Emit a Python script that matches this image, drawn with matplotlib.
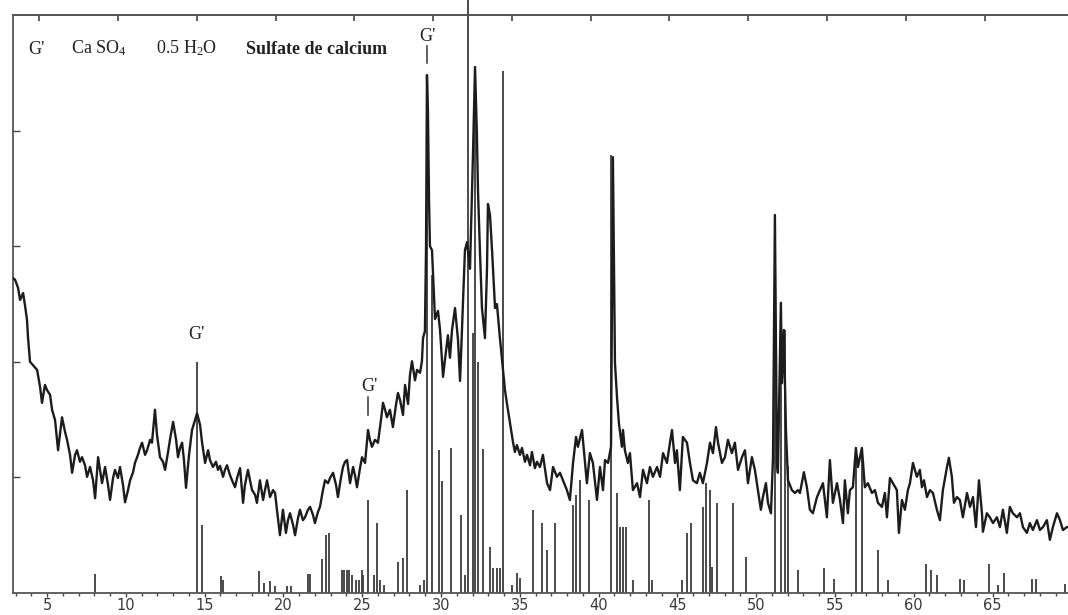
import numpy as np
import matplotlib
matplotlib.use("Agg")
import matplotlib.pyplot as plt
from matplotlib.ticker import MultipleLocator

plt.rcParams['mathtext.fontset'] = 'custom'
plt.rcParams['mathtext.rm'] = 'Liberation Serif'
plt.rcParams['mathtext.it'] = 'Liberation Serif:italic'
plt.rcParams['mathtext.bf'] = 'Liberation Serif:bold'

# measured diffractogram (2-theta in degrees, intensity in % of full scale)
two_theta = [2.84, 2.97, 3.16, 3.29, 3.48, 3.60, 3.73, 3.79, 3.92, 4.11, 4.37, 4.56, 4.68, 4.87, 5.00,
             5.19, 5.32, 5.51, 5.70, 5.95, 6.14, 6.27, 6.46, 6.59, 6.78, 6.90, 7.09, 7.22, 7.41, 7.54,
             7.73, 7.92, 8.05, 8.24, 8.36, 8.49, 8.68, 8.87, 9.00, 9.19, 9.31, 9.50, 9.63, 9.82, 9.95,
             10.14, 10.27, 10.46, 10.58, 10.77, 10.90, 11.03, 11.22, 11.35, 11.54, 11.66, 11.85, 11.98,
             12.17, 12.36, 12.49, 12.68, 12.80, 13.00, 13.19, 13.31, 13.44, 13.57, 13.69, 13.82, 14.01,
             14.20, 14.39, 14.52, 14.71, 14.84, 15.03, 15.22, 15.34, 15.53, 15.72, 15.85, 15.98, 16.17,
             16.29, 16.42, 16.61, 16.74, 16.93, 17.06, 17.25, 17.44, 17.56, 17.75, 17.88, 18.01, 18.20,
             18.32, 18.51, 18.71, 18.83, 18.96, 19.15, 19.34, 19.47, 19.59, 19.78, 19.97, 20.16, 20.29,
             20.42, 20.61, 20.74, 20.93, 21.05, 21.24, 21.37, 21.56, 21.69, 21.88, 22.00, 22.19, 22.32,
             22.51, 22.64, 22.83, 22.96, 23.15, 23.34, 23.46, 23.65, 23.78, 23.91, 24.04, 24.23, 24.42,
             24.54, 24.67, 24.86, 24.99, 25.18, 25.37, 25.49, 25.62, 25.81, 26.00, 26.19, 26.32, 26.45,
             26.57, 26.76, 26.95, 27.14, 27.27, 27.40, 27.59, 27.72, 27.91, 28.03, 28.16, 28.35, 28.48,
             28.67, 28.79, 28.86, 28.98, 29.05, 29.11, 29.17, 29.24, 29.30, 29.43, 29.62, 29.81, 29.94,
             30.13, 30.25, 30.44, 30.57, 30.70, 30.89, 31.08, 31.21, 31.40, 31.52, 31.65, 31.84, 32.03,
             32.16, 32.28, 32.35, 32.47, 32.60, 32.79, 32.92, 32.98, 33.11, 33.24, 33.43, 33.55, 33.74,
             33.93, 34.06, 34.19, 34.38, 34.57, 34.69, 34.82, 35.01, 35.14, 35.33, 35.46, 35.65, 35.77,
             35.96, 36.09, 36.28, 36.47, 36.73, 36.92, 37.11, 37.36, 37.55, 37.74, 37.99, 38.18, 38.38,
             38.57, 38.69, 38.95, 39.07, 39.26, 39.45, 39.64, 39.90, 40.09, 40.28, 40.41, 40.60, 40.79,
             40.91, 41.04, 41.17, 41.29, 41.48, 41.55, 41.67, 41.86, 41.99, 42.18, 42.44, 42.63, 42.82,
             43.07, 43.26, 43.45, 43.71, 43.90, 44.09, 44.34, 44.53, 44.66, 44.85, 44.97, 45.16, 45.35,
             45.61, 45.80, 45.99, 46.24, 46.43, 46.62, 46.88, 47.07, 47.26, 47.45, 47.58, 47.83, 48.02,
             48.21, 48.46, 48.65, 48.85, 49.10, 49.29, 49.48, 49.73, 49.92, 50.11, 50.30, 50.43, 50.62,
             50.75, 50.94, 51.07, 51.19, 51.32, 51.38, 51.57, 51.64, 51.76, 51.89, 52.02, 52.27, 52.46,
             52.65, 52.78, 53.03, 53.22, 53.41, 53.60, 53.86, 54.05, 54.24, 54.49, 54.68, 54.87, 55.13,
             55.32, 55.51, 55.63, 55.82, 55.95, 56.14, 56.33, 56.46, 56.71, 56.90, 57.09, 57.35, 57.54,
             57.73, 57.98, 58.17, 58.30, 58.49, 58.68, 58.93, 59.06, 59.25, 59.44, 59.63, 59.76, 59.95,
             60.20, 60.39, 60.52, 60.65, 60.84, 61.03, 61.22, 61.47, 61.66, 61.85, 62.11, 62.23, 62.42,
             62.55, 62.74, 62.93, 63.12, 63.38, 63.57, 63.76, 63.95, 64.14, 64.33, 64.39, 64.64, 64.83,
             65.03, 65.28, 65.47, 65.66, 65.91, 66.10, 66.29, 66.55, 66.74, 66.93, 67.18, 67.37, 67.56,
             67.82, 68.01, 68.20, 68.45, 68.64, 68.83, 69.09, 69.28, 69.47, 69.72]

intensity = [54.5, 54.2, 52.8, 50.7, 51.9, 49.8, 47.2, 44.3, 40.0, 39.4, 38.6, 35.6, 32.9, 36.0, 35.1,
             34.3, 31.7, 29.9, 24.7, 30.4, 27.9, 26.5, 23.9, 20.8, 23.9, 24.7, 22.7, 23.5, 22.1, 20.1,
             21.8, 19.5, 16.4, 23.5, 21.3, 19.0, 21.8, 18.7, 16.1, 19.9, 21.3, 19.9, 21.8, 18.7, 15.7,
             17.8, 19.5, 20.9, 22.5, 23.9, 25.1, 26.0, 23.9, 24.7, 26.5, 26.0, 31.7, 27.3,
             23.5, 22.7, 21.3, 24.4, 26.5, 29.6, 26.5, 23.5, 25.1, 26.0, 23.0, 18.2, 23.9,
             28.2, 29.9, 31.1, 29.1, 26.0, 22.5, 24.7, 23.0, 21.8, 22.7, 21.3, 22.0, 20.1,
             21.3, 22.1, 20.4, 19.5, 18.3, 19.9, 21.6, 15.6, 18.7, 21.3, 19.5, 17.8, 17.0,
             15.6, 19.5, 16.1, 17.8, 19.5, 16.6, 17.8, 17.3, 14.4, 10.0, 14.4, 10.4, 12.6,
             13.8, 11.8, 10.0, 13.0, 14.4, 12.6, 13.1, 14.4, 14.9, 13.5, 12.1, 14.0, 14.9,
             17.8, 19.5, 19.0, 19.9, 20.8, 18.7, 16.6, 19.9, 21.8, 22.7, 23.0, 19.0, 21.8,
             20.4, 18.3, 21.6, 23.5, 22.5, 28.2, 26.5, 25.3, 26.5, 26.0, 29.9, 32.9, 31.7,
             30.4, 31.7, 28.7, 32.5, 34.6, 33.4, 30.8, 36.0, 32.7, 37.7, 40.1, 36.8, 38.6,
             38.1, 40.1, 44.1, 45.3, 59.3, 89.6, 83.6, 68.0, 60.0, 59.3, 47.4, 48.8, 45.5,
             37.4, 40.3, 44.6, 40.7, 45.5, 49.3, 43.8, 36.7, 50.7, 59.3, 60.7, 56.1, 75.9,
             91.0, 79.2, 69.4, 59.3, 49.3, 44.1, 56.1, 67.3, 65.4, 59.3, 49.3, 50.0, 44.1,
             38.8, 35.1, 32.7, 29.4, 26.1, 24.4, 25.6, 23.9, 25.1, 22.7, 23.9, 22.1, 24.4,
             21.6, 22.7, 21.8, 23.9, 19.0, 17.8, 21.8, 20.1, 20.8, 19.5, 17.8, 16.1, 22.5,
             27.0, 25.3, 28.2, 24.7, 19.0, 24.2, 22.5, 16.1, 21.8, 17.8, 23.0, 22.5, 25.3,
             75.4, 39.8, 33.9, 29.4, 25.3, 28.2, 24.7, 22.5, 24.2, 17.8, 19.0, 16.6, 21.3,
             19.0, 21.8, 20.1, 21.8, 20.1, 24.2, 22.5, 26.0, 28.2, 22.5, 24.7, 17.8, 27.0,
             26.0, 22.5, 19.5, 19.0, 20.8, 19.0, 22.5, 26.0, 24.2, 28.7, 26.0, 22.5, 23.5,
             26.5, 24.2, 26.0, 21.3, 23.5, 24.7, 19.0, 23.5, 21.3, 17.8, 14.4, 16.6, 19.0,
             15.6, 13.8, 23.5, 65.4, 22.5, 20.8, 50.2, 36.3, 45.5, 28.2, 19.5, 17.8, 17.3,
             17.8, 17.3, 20.9, 18.3, 14.4, 13.8, 16.6, 17.8, 19.0, 13.1, 23.0, 15.6, 19.0,
             16.1, 12.1, 19.5, 13.8, 17.8, 18.3, 25.1, 21.8, 25.1, 18.3, 19.0, 17.3, 17.8,
             15.6, 14.9, 17.3, 13.1, 19.9, 19.0, 17.8, 10.4, 16.1, 14.4, 17.8, 19.0, 22.5,
             20.1, 21.3, 18.3, 19.5, 16.6, 17.8, 17.3, 14.4, 12.6, 17.8, 21.8, 23.4, 20.1,
             15.6, 16.6, 16.1, 13.1, 17.3, 14.9, 16.6, 11.4, 19.5, 13.8, 10.6, 13.8, 13.1,
             12.1, 13.1, 11.4, 14.4, 10.4, 14.9, 13.8, 13.1, 13.8, 11.4, 10.4, 12.1, 10.9,
             12.6, 10.9, 11.4, 12.6, 9.2, 11.4, 13.8, 12.6, 10.9, 11.4]

# reference pattern (stick positions in degrees 2-theta, relative intensity in %)
stick_pos = [8.02, 14.52, 14.84, 16.04, 16.17, 18.42, 18.79, 19.18, 19.44, 20.25, 20.47, 21.55, 21.70,
             22.45, 22.73, 22.89, 23.72, 23.84, 24.04, 24.16, 24.35, 24.61, 24.80, 24.99, 25.08, 25.37,
             25.75, 25.97, 26.13, 26.38, 27.27, 27.59, 27.84, 28.67, 28.92, 29.11, 29.46, 29.87, 30.06,
             30.63, 31.27, 31.52, 31.71, 32.01, 32.18, 32.37, 32.68, 33.14, 33.30, 33.55, 33.77, 33.93,
             34.51, 34.82, 35.01, 35.84, 36.39, 36.71, 37.23, 38.39, 38.57, 38.82, 39.39, 40.82, 41.15,
             41.39, 41.55, 41.74, 42.18, 43.20, 43.39, 45.27, 45.59, 45.84, 46.64, 46.80, 47.07, 47.18,
             47.53, 48.51, 49.33, 51.19, 51.55, 51.83, 51.99, 52.67, 54.30, 54.97, 56.33, 56.69, 57.71,
             58.36, 60.81, 61.12, 61.47, 62.93, 63.19, 64.77, 65.37, 65.72, 67.50, 67.75, 69.59]
stick_int = [3.3, 40.0, 11.8, 2.9, 2.2, 3.8, 1.8, 2.1, 1.2, 1.2, 1.2, 3.3, 3.3,
             5.9, 10.0, 10.4, 4.0, 4.0, 4.0, 4.0, 3.1, 2.2, 2.2, 4.0, 3.1, 16.1,
             3.1, 12.1, 2.2, 1.4, 5.4, 6.1, 17.8, 1.4, 2.2, 89.6, 55.0, 24.7, 19.4,
             25.1, 13.5, 3.1, 102.6, 45.0, 91.0, 40.0, 25.0, 8.0, 4.3, 4.3, 4.3, 90.3,
             1.4, 3.5, 2.6, 14.4, 12.1, 7.4, 12.1, 15.2, 17.0, 19.5, 16.1, 75.8, 17.3,
             11.4, 11.4, 11.4, 2.2, 16.1, 2.2, 2.2, 10.4, 12.1, 14.9, 19.0, 17.8, 4.5,
             15.6, 15.6, 6.2, 65.4, 50.2, 45.5, 22.0, 4.0, 4.3, 2.4, 25.1, 25.1, 7.4,
             2.2, 5.1, 3.9, 3.2, 2.5, 2.2, 5.0, 1.3, 3.4, 2.5, 2.5, 1.5]

x_ticks = [5, 10, 15, 20, 25, 30, 35, 40, 45, 50, 55, 60, 65]
top_ticks = [4.5, 9.5, 14.5, 19.5, 24.5, 29.5, 34.5, 39.5, 44.5, 49.5, 54.5, 59.5, 64.5]
y_ticks = [20, 40, 60, 80]

fig = plt.figure(figsize=(10.68, 6.15), dpi=100)
ax = fig.add_axes([13 / 1068, 22 / 615, 1055 / 1068, 578 / 615])

ax.vlines(stick_pos, 0, stick_int, colors='#3c3c3c', lw=1.3, clip_on=False, zorder=2)
ax.plot(two_theta, intensity, color='#1c1c1c', lw=1.7, zorder=3)

ax.set_xlim(2.84, 69.79)
ax.set_ylim(0, 100)

ax.set_xticks(x_ticks)
ax.set_xticklabels([str(t) for t in x_ticks])
ax.xaxis.set_minor_locator(MultipleLocator(1))
ax.tick_params(axis='x', which='major', direction='out', length=3, width=1.0,
               color='#444444', labelsize=10.5, labelcolor='#3a3a3a', pad=0.5)
ax.tick_params(axis='x', which='minor', direction='out', length=2.5, width=1.0, color='#444444')
ax.set_yticks(y_ticks)
ax.tick_params(axis='y', direction='in', length=5, width=1.0, color='#444444', labelleft=False)

sec = ax.secondary_xaxis('top')
sec.set_xticks(top_ticks)
sec.tick_params(direction='in', length=4, width=1.2, color='#444444', labeltop=False)
sec.spines['top'].set_color('#555555')
sec.spines['top'].set_linewidth(1.3)

for s in ['left', 'bottom', 'top']:
    ax.spines[s].set_color('#555555')
    ax.spines[s].set_linewidth(1.3)
ax.spines['right'].set_visible(False)

serif = 'Liberation Serif'
ax.text(3.79, 93.3, "G'", family=serif, fontsize=13, ha='left', va='baseline', color='#222222')
ax.text(6.52, 93.3, r"Ca SO$_\mathregular{4}$", family=serif, fontsize=13, ha='left', va='baseline', color='#222222')
ax.text(11.92, 93.3, r"0.5 H$_\mathregular{2}$O", family=serif, fontsize=13, ha='left', va='baseline', color='#222222')
ax.text(17.63, 93.3, "Sulfate de calcium", family=serif, fontsize=13, fontweight='bold',
        ha='left', va='baseline', color='#222222')

# G' markers
ax.text(29.11, 96.2, "G'", family=serif, fontsize=13, ha='center', va='center', color='#222222')
ax.plot([29.11, 29.11], [94.6, 91.7], color='#333333', lw=1.1)
ax.text(14.45, 44.8, "G'", family=serif, fontsize=13, ha='center', va='center', color='#222222')
ax.text(25.43, 35.8, "G'", family=serif, fontsize=13, ha='center', va='center', color='#222222')
ax.plot([25.37, 25.37], [33.9, 30.8], color='#333333', lw=1.1)

fig.savefig('out.png', dpi=100, facecolor='white')
